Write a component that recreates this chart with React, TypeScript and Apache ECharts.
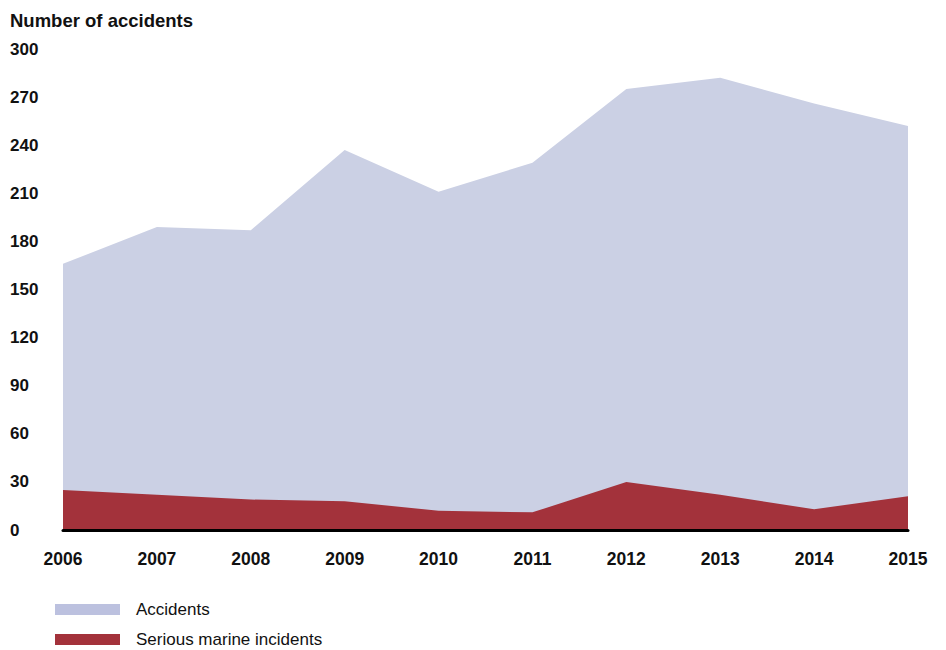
import React, { useEffect, useRef } from "react";
import * as echarts from "echarts";

const years = ["2006", "2007", "2008", "2009", "2010", "2011", "2012", "2013", "2014", "2015"];
const accidents = [166, 189, 187, 237, 211, 229, 275, 282, 266, 252];
const serious = [25, 22, 19, 18, 12, 11, 30, 22, 13, 21];
const yTicks = { min: 0, max: 300, interval: 30 };
const seriesNames = ["Accidents", "Serious marine incidents"];

const FONT = "'Liberation Sans', Arial, sans-serif";

export default function App() {
  const ref = useRef<HTMLDivElement>(null);
  useEffect(() => {
    if (!ref.current) return;
    const chart = echarts.init(ref.current, undefined, { renderer: "svg" });
    const legendBase = {
      orient: "horizontal",
      left: 55,
      padding: 0,
      itemWidth: 65,
      itemHeight: 11,
      icon: "rect",
      textStyle: { fontFamily: FONT, fontSize: 17, color: "#111", padding: [2, 0, 0, 11] },
    };
    chart.setOption({
      animation: false,
      textStyle: { fontFamily: FONT },
      title: {
        text: "Number of accidents",
        left: 5,
        top: 6,
        textStyle: { fontFamily: FONT, fontSize: 18.5, fontWeight: "bold", color: "#111" },
      },
      grid: { left: 63, right: 38, top: 49, bottom: 120 },
      xAxis: {
        type: "category",
        data: years,
        boundaryGap: false,
        axisLine: { lineStyle: { color: "#000", width: 3 } },
        axisTick: { show: false },
        axisLabel: { fontFamily: FONT, fontSize: 17.5, fontWeight: "bold", color: "#111", margin: 20 },
        splitLine: { show: false },
        z: 10,
      },
      yAxis: {
        type: "value",
        min: yTicks.min,
        max: yTicks.max,
        interval: yTicks.interval,
        axisLine: { show: false },
        axisTick: { show: false },
        splitLine: { show: false },
        axisLabel: { fontFamily: FONT, fontSize: 17, fontWeight: "bold", color: "#111", align: "left", margin: 53 },
      },
      legend: [
        { ...legendBase, top: 601, data: [{ name: seriesNames[0], itemStyle: { color: "#bcc1df" } }] },
        { ...legendBase, top: 631, data: [{ name: seriesNames[1], itemStyle: { color: "#a3323b" } }] },
      ],
      series: [
        {
          name: seriesNames[0],
          type: "line",
          data: accidents,
          symbol: "none",
          lineStyle: { width: 0 },
          itemStyle: { color: "#cbd0e4" },
          areaStyle: { color: "#cbd0e4", opacity: 1 },
          z: 1,
        },
        {
          name: seriesNames[1],
          type: "line",
          data: serious,
          symbol: "none",
          lineStyle: { width: 0 },
          itemStyle: { color: "#a3323b" },
          areaStyle: { color: "#a3323b", opacity: 1 },
          z: 2,
        },
      ],
    });
    return () => chart.dispose();
  }, []);
  return (
    <div
      ref={ref}
      style={{ position: "fixed", left: 0, top: 0, width: 946, height: 650, background: "#fff" }}
    />
  );
}
